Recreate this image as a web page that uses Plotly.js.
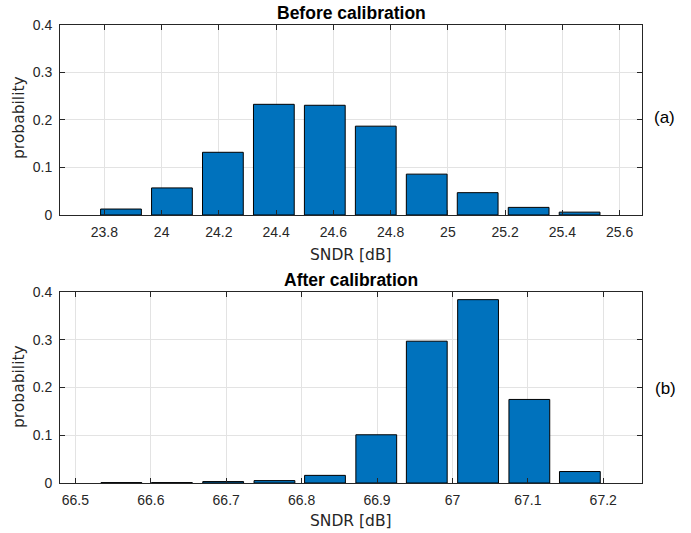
<!DOCTYPE html>
<html>
<head>
<meta charset="utf-8">
<script src="https://cdn.plot.ly/plotly-3.0.1.min.js"></script>
<style>html,body{margin:0;padding:0;background:#fff;}#chart{width:691px;height:533px;}</style>
</head>
<body>
<div id="chart"></div>
<script>
// Before calibration (top)
const beforeSNDR = [23.858, 24.036, 24.214, 24.392, 24.570, 24.748, 24.926, 25.104, 25.282, 25.460];
const beforeProb = [0.0125, 0.057, 0.132, 0.233, 0.231, 0.187, 0.086, 0.047, 0.016, 0.006];
const beforeTicks = [23.8, 24, 24.2, 24.4, 24.6, 24.8, 25, 25.2, 25.4, 25.6];
// After calibration (bottom)
const afterSNDR = [66.561, 66.628, 66.696, 66.764, 66.831, 66.899, 66.966, 67.034, 67.102, 67.169];
const afterProb = [0.0008, 0.0008, 0.003, 0.005, 0.016, 0.101, 0.297, 0.384, 0.175, 0.024];
const afterTicks = [66.5, 66.6, 66.7, 66.8, 66.9, 67, 67.1, 67.2];
const probTicks = [0, 0.1, 0.2, 0.3, 0.4];

const barColor = '#0072BD';
const tickFont = {family: 'Liberation Sans, Arial, sans-serif', size: 14, color: '#262626'};
const labelFont = {family: 'DejaVu Sans, sans-serif', size: 15.5, color: '#262626'};
const titleFont = {family: 'Liberation Sans, Arial, sans-serif', size: 17.5, color: '#000'};
const tagFont = {family: 'Liberation Sans, Arial, sans-serif', size: 17, color: '#000'};

const traces = [
  {type: 'bar', x: beforeSNDR, y: beforeProb, width: 0.1424, xaxis: 'x', yaxis: 'y',
   marker: {color: barColor, line: {color: '#000', width: 1}}},
  {type: 'bar', x: afterSNDR, y: afterProb, width: 0.0541, xaxis: 'x2', yaxis: 'y2',
   marker: {color: barColor, line: {color: '#000', width: 1}}}
];

const axisCommon = {
  showline: true, linecolor: '#262626', linewidth: 1, mirror: 'ticks',
  ticks: 'inside', ticklen: 5, tickcolor: '#262626', tickwidth: 1,
  showgrid: true, gridcolor: '#e3e3e3', gridwidth: 1, zeroline: false,
  tickfont: tickFont, ticklabelstandoff: 4
};

// paper y from pixel (plot area spans y=25..483)
const py = p => (483 - p) / 458;
const px = p => (p - 60) / 582;

const layout = {
  width: 691, height: 533,
  margin: {l: 60, r: 49, t: 25, b: 50},
  paper_bgcolor: '#fff', plot_bgcolor: '#fff',
  showlegend: false, bargap: 0,
  xaxis: Object.assign({}, axisCommon, {domain: [0, 1], range: [23.645, 25.678], tickvals: beforeTicks, ticktext: beforeTicks.map(String), anchor: 'y'}),
  yaxis: Object.assign({}, axisCommon, {domain: [0.5852, 1], range: [0, 0.4], tickvals: probTicks, ticktext: probTicks.map(String), anchor: 'x'}),
  xaxis2: Object.assign({}, axisCommon, {domain: [0, 1], range: [66.4796, 67.2514], tickvals: afterTicks, ticktext: afterTicks.map(String), anchor: 'y2'}),
  yaxis2: Object.assign({}, axisCommon, {domain: [0, 0.417], range: [0, 0.4], tickvals: probTicks, ticktext: probTicks.map(String), anchor: 'x2'}),
  annotations: [
    {text: '<b>Before calibration</b>', xref: 'paper', yref: 'paper', x: px(351), y: py(13), xanchor: 'center', yanchor: 'middle', showarrow: false, font: titleFont},
    {text: '<b>After calibration</b>', xref: 'paper', yref: 'paper', x: px(351), y: py(280), xanchor: 'center', yanchor: 'middle', showarrow: false, font: titleFont},
    {text: 'SNDR [dB]', xref: 'paper', yref: 'paper', x: px(351), y: py(255), xanchor: 'center', yanchor: 'middle', showarrow: false, font: labelFont},
    {text: 'SNDR [dB]', xref: 'paper', yref: 'paper', x: px(351), y: py(521), xanchor: 'center', yanchor: 'middle', showarrow: false, font: labelFont},
    {text: 'probability', xref: 'paper', yref: 'paper', x: px(19), y: py(118), xanchor: 'center', yanchor: 'middle', textangle: -90, showarrow: false, font: labelFont},
    {text: 'probability', xref: 'paper', yref: 'paper', x: px(19), y: py(387), xanchor: 'center', yanchor: 'middle', textangle: -90, showarrow: false, font: labelFont},
    {text: '(a)', xref: 'paper', yref: 'paper', x: px(664), y: py(118), xanchor: 'center', yanchor: 'middle', showarrow: false, font: tagFont},
    {text: '(b)', xref: 'paper', yref: 'paper', x: px(665), y: py(388), xanchor: 'center', yanchor: 'middle', showarrow: false, font: tagFont}
  ]
};

Plotly.newPlot('chart', traces, layout, {displayModeBar: false, staticPlot: true});
</script>
</body>
</html>
